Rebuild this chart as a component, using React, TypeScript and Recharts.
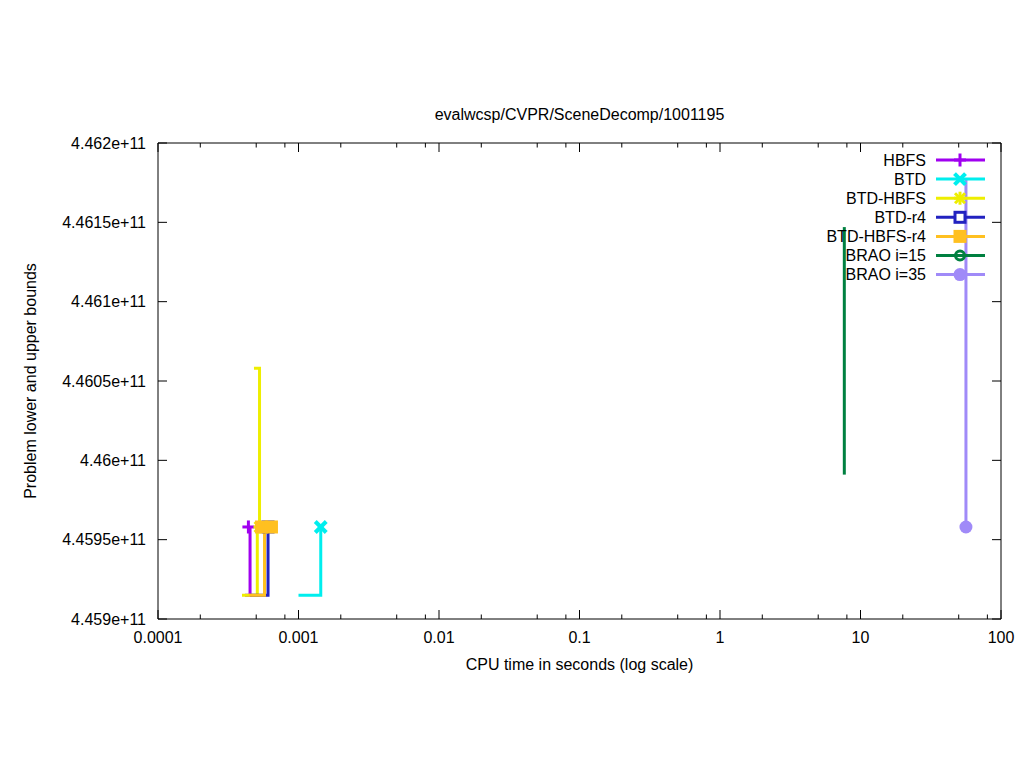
import React from 'react';
import { ComposedChart, Line, Scatter, XAxis, YAxis, Legend } from 'recharts';

// axis ticks
const X_TICKS = [0.0001, 0.001, 0.01, 0.1, 1, 10, 100];
const X_TICK_LABELS = ['0.0001', '0.001', '0.01', '0.1', '1', '10', '100'];
const X_MINOR = [0.0002, 0.0005, 0.0008, 0.002, 0.005, 0.008, 0.02, 0.05, 0.08, 0.2, 0.5, 0.8, 2, 5, 8, 20, 50, 80];
const Y_TICKS = [4.459e11, 4.4595e11, 4.46e11, 4.4605e11, 4.461e11, 4.4615e11, 4.462e11];
const Y_TICK_LABELS = ['4.459e+11', '4.4595e+11', '4.46e+11', '4.4605e+11', '4.461e+11', '4.4615e+11', '4.462e+11'];

// series: t = CPU seconds, v = bound
const hbfsPath = [{ t: 4.16e-4, v: 4.45915e11 }, { t: 4.52e-4, v: 4.45958e11 }];
const hbfsMarks = [{ t: 4.4e-4, v: 4.45958e11 }];
const btdPath = [{ t: 1.0e-3, v: 4.45915e11 }, { t: 1.44e-3, v: 4.45958e11 }];
const btdMarks = [{ t: 1.44e-3, v: 4.45958e11 }];
const btdHbfsLower = [{ t: 3.96e-4, v: 4.45915e11 }, { t: 5.09e-4, v: 4.45958e11 }];
const btdHbfsUpper = [{ t: 4.82e-4, v: 4.46058e11 }, { t: 5.28e-4, v: 4.45958e11 }];
const btdHbfsMarks = [{ t: 5.28e-4, v: 4.45958e11 }];
const btdR4Path = [{ t: 4.52e-4, v: 4.45915e11 }, { t: 6.07e-4, v: 4.45958e11 }];
const btdR4Marks = [{ t: 6.07e-4, v: 4.45958e11 }];
const btdHbfsR4Path = [{ t: 4.44e-4, v: 4.45915e11 }, { t: 5.73e-4, v: 4.45958e11 }];
const btdHbfsR4Marks = [{ t: 5.45e-4, v: 4.45958e11 }, { t: 6.42e-4, v: 4.45958e11 }];
const brao15Path = [{ t: 7.67, v: 4.46147e11 }, { t: 7.67, v: 4.45991e11 }];
const brao35Path = [{ t: 56.3, v: 4.46178e11 }, { t: 56.3, v: 4.45958e11 }];
const brao35Marks = [{ t: 56.3, v: 4.45958e11 }];

const SERIES = [
  { name: 'HBFS', color: '#a000f0', shape: 'plus' },
  { name: 'BTD', color: '#00eeee', shape: 'cross' },
  { name: 'BTD-HBFS', color: '#eeee00', shape: 'star' },
  { name: 'BTD-r4', color: '#2222c0', shape: 'square' },
  { name: 'BTD-HBFS-r4', color: '#ffc020', shape: 'fsquare' },
  { name: 'BRAO i=15', color: '#008040', shape: 'circle' },
  { name: 'BRAO i=35', color: '#a08af8', shape: 'fcircle' },
];

const FONT = '"Liberation Sans", Arial, sans-serif';
const FS = 16;
// recharts places custom ticks tickSize + tickMargin away from the axis line
const OFF = 8;

const Marker = ({ shape, cx, cy, color }: any) => {
  switch (shape) {
    case 'plus':
      return (
        <g stroke={color} strokeWidth={3}>
          <line x1={cx - 6} x2={cx + 6} y1={cy} y2={cy} />
          <line x1={cx} x2={cx} y1={cy - 6.5} y2={cy + 6.5} />
        </g>
      );
    case 'cross':
      return (
        <g stroke={color} strokeWidth={4}>
          <line x1={cx - 5.5} x2={cx + 5.5} y1={cy - 5.5} y2={cy + 5.5} />
          <line x1={cx - 5.5} x2={cx + 5.5} y1={cy + 5.5} y2={cy - 5.5} />
        </g>
      );
    case 'star':
      return (
        <g stroke={color} strokeWidth={3}>
          <line x1={cx - 6} x2={cx + 6} y1={cy} y2={cy} />
          <line x1={cx} x2={cx} y1={cy - 6.5} y2={cy + 6.5} />
          <line x1={cx - 5} x2={cx + 5} y1={cy - 5} y2={cy + 5} />
          <line x1={cx - 5} x2={cx + 5} y1={cy + 5} y2={cy - 5} />
        </g>
      );
    case 'square':
      return <rect x={cx - 5} y={cy - 5} width={10} height={10} fill="#fff" stroke={color} strokeWidth={3} />;
    case 'fsquare':
      return <rect x={cx - 6.5} y={cy - 6.5} width={13} height={13} fill={color} />;
    case 'circle':
      return <circle cx={cx} cy={cy} r={4.5} fill="none" stroke={color} strokeWidth={3} />;
    default:
      return <circle cx={cx} cy={cy} r={6.5} fill={color} />;
  }
};

const shapeFor = (i: number) => (p: any) => <Marker shape={SERIES[i].shape} cx={p.cx} cy={p.cy} color={SERIES[i].color} />;

const BottomTick = ({ x, y, payload }: any) => {
  const i = X_TICKS.indexOf(payload.value);
  const y0 = y - OFF;
  return (
    <g>
      <line x1={x} x2={x} y1={y0} y2={y0 - (i >= 0 ? 9 : 4.5)} stroke="#000" />
      {i >= 0 && (
        <text x={x} y={y0 + 23.5} textAnchor="middle" fontSize={FS} fontFamily={FONT} fill="#000">
          {X_TICK_LABELS[i]}
        </text>
      )}
    </g>
  );
};

const TopTick = ({ x, y, payload }: any) => {
  const major = X_TICKS.indexOf(payload.value) >= 0;
  const y0 = y + OFF;
  return <line x1={x} x2={x} y1={y0} y2={y0 + (major ? 9 : 4.5)} stroke="#000" />;
};

const LeftTick = ({ x, y, payload }: any) => {
  const i = Y_TICKS.indexOf(payload.value);
  const x0 = x + OFF;
  return (
    <g>
      <line x1={x0} x2={x0 + 9} y1={y} y2={y} stroke="#000" />
      <text x={x0 - 12} y={y + 5.5} textAnchor="end" fontSize={FS} fontFamily={FONT} fill="#000">
        {Y_TICK_LABELS[i]}
      </text>
    </g>
  );
};

const RightTick = ({ x, y }: any) => {
  const x0 = x - OFF;
  return <line x1={x0} x2={x0 - 9} y1={y} y2={y} stroke="#000" />;
};

const LegendBox = () => (
  <svg width={180} height={140} style={{ display: 'block' }}>
    {SERIES.map((s, i) => {
      const y = 10 + i * 19.1;
      return (
        <g key={s.name}>
          <text x={106} y={y + 5.5} textAnchor="end" fontSize={FS} fontFamily={FONT} fill="#000">
            {s.name}
          </text>
          <line x1={116} x2={165} y1={y} y2={y} stroke={s.color} strokeWidth={3} />
          <Marker shape={s.shape} cx={140} cy={y} color={s.color} />
        </g>
      );
    })}
  </svg>
);

const X_DOMAIN = [0.0001, 100];
const Y_DOMAIN = [4.459e11, 4.462e11];

export default function App() {
  const lineProps = { xAxisId: 'b', yAxisId: 'l', dataKey: 'v', dot: false, strokeWidth: 3, isAnimationActive: false, legendType: 'none' as const };
  const scatterProps = { xAxisId: 'b', yAxisId: 'l', dataKey: 'v', isAnimationActive: false, legendType: 'none' as const };
  return (
    <div style={{ position: 'absolute', left: 0, top: 0, width: 1024, height: 768, background: '#fff', fontFamily: FONT }}>
      <ComposedChart width={1024} height={768} margin={{ top: 142, right: 22, bottom: 109, left: 78 }}>
        <XAxis
          xAxisId="b"
          dataKey="t"
          type="number"
          scale="log"
          domain={X_DOMAIN}
          allowDataOverflow
          ticks={[...X_TICKS, ...X_MINOR]}
          interval={0}
          tick={<BottomTick />}
          tickLine={false}
          tickSize={6}
          tickMargin={2}
          height={40}
          axisLine={{ stroke: '#000' }}
          label={{ value: 'CPU time in seconds (log scale)', position: 'bottom', offset: 0, style: { fontSize: FS, fontFamily: FONT, fill: '#000' } }}
        />
        <XAxis
          xAxisId="t"
          dataKey="t"
          orientation="top"
          type="number"
          scale="log"
          domain={X_DOMAIN}
          allowDataOverflow
          ticks={[...X_TICKS, ...X_MINOR]}
          interval={0}
          tick={<TopTick />}
          tickLine={false}
          tickSize={6}
          tickMargin={2}
          height={1}
          axisLine={{ stroke: '#000' }}
          label={{ value: 'evalwcsp/CVPR/SceneDecomp/1001195', position: 'top', offset: 22.5, style: { fontSize: FS, fontFamily: FONT, fill: '#000' } }}
        />
        <YAxis
          yAxisId="l"
          dataKey="v"
          type="number"
          domain={Y_DOMAIN}
          allowDataOverflow
          ticks={Y_TICKS}
          interval={0}
          tick={<LeftTick />}
          tickLine={false}
          tickSize={6}
          tickMargin={2}
          width={80}
          axisLine={{ stroke: '#000' }}
          label={{ value: 'Problem lower and upper bounds', angle: -90, position: 'left', offset: 48, style: { fontSize: FS, fontFamily: FONT, fill: '#000', textAnchor: 'middle' } }}
        />
        <YAxis
          yAxisId="r"
          dataKey="v"
          orientation="right"
          type="number"
          domain={Y_DOMAIN}
          allowDataOverflow
          ticks={Y_TICKS}
          interval={0}
          tick={<RightTick />}
          tickLine={false}
          tickSize={6}
          tickMargin={2}
          width={1}
          axisLine={{ stroke: '#000' }}
        />
        <Line {...lineProps} data={hbfsPath} type="stepAfter" stroke={SERIES[0].color} />
        <Scatter {...scatterProps} data={hbfsMarks} fill={SERIES[0].color} shape={shapeFor(0)} />
        <Line {...lineProps} data={btdPath} type="stepAfter" stroke={SERIES[1].color} />
        <Scatter {...scatterProps} data={btdMarks} fill={SERIES[1].color} shape={shapeFor(1)} />
        <Line {...lineProps} data={btdHbfsLower} type="stepAfter" stroke={SERIES[2].color} />
        <Line {...lineProps} data={btdHbfsUpper} type="stepAfter" stroke={SERIES[2].color} />
        <Scatter {...scatterProps} data={btdHbfsMarks} fill={SERIES[2].color} shape={shapeFor(2)} />
        <Line {...lineProps} data={btdR4Path} type="stepAfter" stroke={SERIES[3].color} />
        <Scatter {...scatterProps} data={btdR4Marks} fill={SERIES[3].color} shape={shapeFor(3)} />
        <Line {...lineProps} data={btdHbfsR4Path} type="stepAfter" stroke={SERIES[4].color} />
        <Scatter {...scatterProps} data={btdHbfsR4Marks} fill={SERIES[4].color} shape={shapeFor(4)} />
        <Line {...lineProps} data={brao15Path} type="linear" stroke={SERIES[5].color} />
        <Line {...lineProps} data={brao35Path} type="linear" stroke={SERIES[6].color} />
        <Scatter {...scatterProps} data={brao35Marks} fill={SERIES[6].color} shape={shapeFor(6)} />
        {/* invisible series so the mirrored top/right axes get rendered */}
        <Line xAxisId="t" yAxisId="r" dataKey="v" data={brao35Path} stroke="none" dot={false} isAnimationActive={false} legendType="none" />
        <Legend
          layout="vertical"
          align="center"
          verticalAlign="middle"
          content={<LegendBox />}
          wrapperStyle={{ position: 'absolute', left: 820, top: 150, width: 180, height: 140 }}
        />
      </ComposedChart>
    </div>
  );
}
